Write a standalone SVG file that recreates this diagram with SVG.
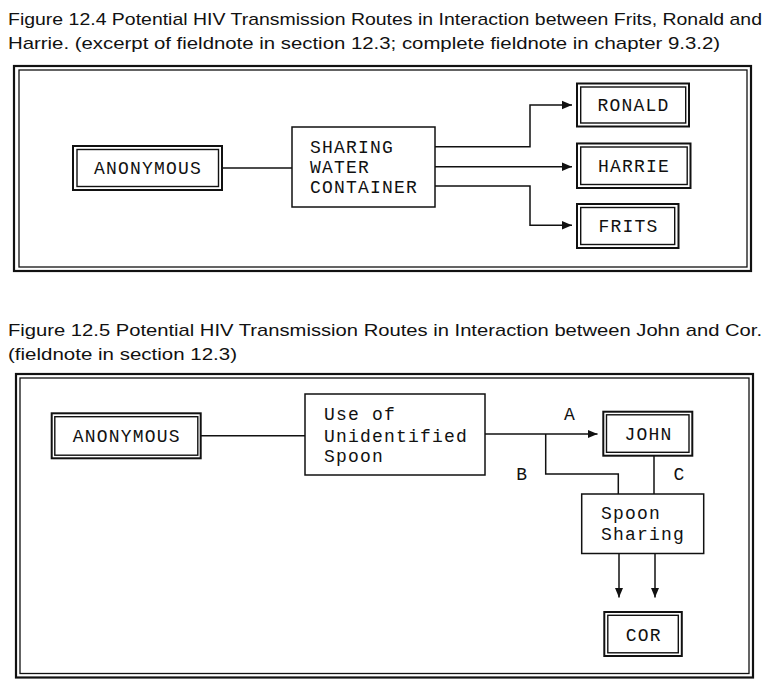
<svg xmlns="http://www.w3.org/2000/svg" width="770" height="694" viewBox="0 0 770 694">
<style>
.title{font-family:"Liberation Sans",Arial,sans-serif;font-size:17px;fill:#111}
.mono{font-family:"Liberation Mono","Courier New",monospace;font-size:18px;letter-spacing:1.2px;fill:#111}
.lbl{font-family:"Liberation Mono","Courier New",monospace;font-size:18px;fill:#111}
.frameO{fill:none;stroke:#111;stroke-width:2.2}
.frameI{fill:none;stroke:#111;stroke-width:1.3}
.boxO{fill:none;stroke:#111;stroke-width:2}
.boxI{fill:none;stroke:#111;stroke-width:1.4}
.box{fill:#fff;stroke:#111;stroke-width:1.5}
.conn path{fill:none;stroke:#111;stroke-width:1.5}
</style>
<defs>
<marker id="arr" markerUnits="userSpaceOnUse" markerWidth="10" markerHeight="10" viewBox="0 0 10 10" refX="10" refY="5" orient="auto">
<path d="M0,0.8 L10,5 L0,9.2 Z" fill="#111"/>
</marker>
</defs>
<rect width="770" height="694" fill="#fff"/>

<!-- Figure 12.4 -->
<text class="title" x="8" y="25" textLength="754" lengthAdjust="spacingAndGlyphs">Figure 12.4 Potential HIV Transmission Routes in Interaction between Frits, Ronald and</text>
<text class="title" x="8" y="49" textLength="712" lengthAdjust="spacingAndGlyphs">Harrie. (excerpt of fieldnote in section 12.3; complete fieldnote in chapter 9.3.2)</text>
<g id="frame1">
<rect class="frameO" x="14" y="66" width="737" height="205"/>
<rect class="frameI" x="19" y="70" width="728" height="197"/>
</g>

<g class="conn" id="connectors1">
<path d="M222,168 H292"/>
<path d="M435,146.7 H530 V105 H572" marker-end="url(#arr)"/>
<path d="M435,166.7 H572" marker-end="url(#arr)"/>
<path d="M435,186 H530 V225.3 H572" marker-end="url(#arr)"/>
</g>

<g id="anon1">
<rect class="boxO" x="73" y="146" width="149" height="44"/>
<rect class="boxI" x="77" y="149.5" width="141.5" height="37"/>
<text class="mono" x="148" y="174" text-anchor="middle">ANONYMOUS</text>
</g>
<g id="sharing">
<rect class="box" x="292" y="127" width="143" height="80"/>
<text class="mono" x="310" y="152.7">SHARING</text>
<text class="mono" x="310" y="172.7">WATER</text>
<text class="mono" x="310" y="192.7">CONTAINER</text>
</g>
<g id="ronald">
<rect class="boxO" x="577" y="83.5" width="112" height="43"/>
<rect class="boxI" x="580.7" y="87" width="105" height="36"/>
<text class="mono" x="633.5" y="111" text-anchor="middle">RONALD</text>
</g>
<g id="harrie">
<rect class="boxO" x="577" y="143.5" width="113.5" height="44.5"/>
<rect class="boxI" x="580.7" y="147" width="106.5" height="37.5"/>
<text class="mono" x="634" y="172" text-anchor="middle">HARRIE</text>
</g>
<g id="frits">
<rect class="boxO" x="577" y="204" width="101.5" height="44"/>
<rect class="boxI" x="580.7" y="207.5" width="94" height="37"/>
<text class="mono" x="628.5" y="232" text-anchor="middle">FRITS</text>
</g>

<!-- Figure 12.5 -->
<text class="title" x="8" y="336" textLength="754" lengthAdjust="spacingAndGlyphs">Figure 12.5 Potential HIV Transmission Routes in Interaction between John and Cor.</text>
<text class="title" x="8" y="360" textLength="229" lengthAdjust="spacingAndGlyphs">(fieldnote in section 12.3)</text>
<g id="frame2">
<rect class="frameO" x="16" y="374" width="737" height="303.5"/>
<rect class="frameI" x="20" y="378" width="729" height="295.5"/>
</g>

<g class="conn" id="connectors2">
<path d="M200.7,435.7 H305"/>
<path d="M485,434 H597.5" marker-end="url(#arr)"/>
<path d="M545.7,434 V474 H618.3 V494"/>
<path d="M654,455.7 V494"/>
<path d="M619,553.5 V597.5" marker-end="url(#arr)"/>
<path d="M655,553.5 V597.5" marker-end="url(#arr)"/>
</g>
<text class="lbl" x="569.5" y="419.5" text-anchor="middle">A</text>
<text class="lbl" x="521.7" y="479.5" text-anchor="middle">B</text>
<text class="lbl" x="679" y="479.5" text-anchor="middle">C</text>

<g id="anon2">
<rect class="boxO" x="51.7" y="413.3" width="149" height="45"/>
<rect class="boxI" x="54.8" y="416.7" width="143" height="38.5"/>
<text class="mono" x="126.8" y="442" text-anchor="middle">ANONYMOUS</text>
</g>
<g id="spoon">
<rect class="box" x="305" y="394" width="180" height="81"/>
<text class="mono" x="324" y="420">Use of</text>
<text class="mono" x="324" y="441.7">Unidentified</text>
<text class="mono" x="324" y="462">Spoon</text>
</g>
<g id="john">
<rect class="boxO" x="603.3" y="411.7" width="89" height="44"/>
<rect class="boxI" x="606.5" y="414.8" width="82.5" height="37.5"/>
<text class="mono" x="648.5" y="440" text-anchor="middle">JOHN</text>
</g>
<g id="spoonsharing">
<rect class="box" x="581.7" y="494" width="122" height="59.5"/>
<text class="mono" x="601" y="519">Spoon</text>
<text class="mono" x="601" y="539.5">Sharing</text>
</g>
<g id="cor">
<rect class="boxO" x="604.3" y="612" width="77.5" height="44"/>
<rect class="boxI" x="607.8" y="615.3" width="70.5" height="37.5"/>
<text class="mono" x="643.8" y="640.5" text-anchor="middle">COR</text>
</g>
</svg>
